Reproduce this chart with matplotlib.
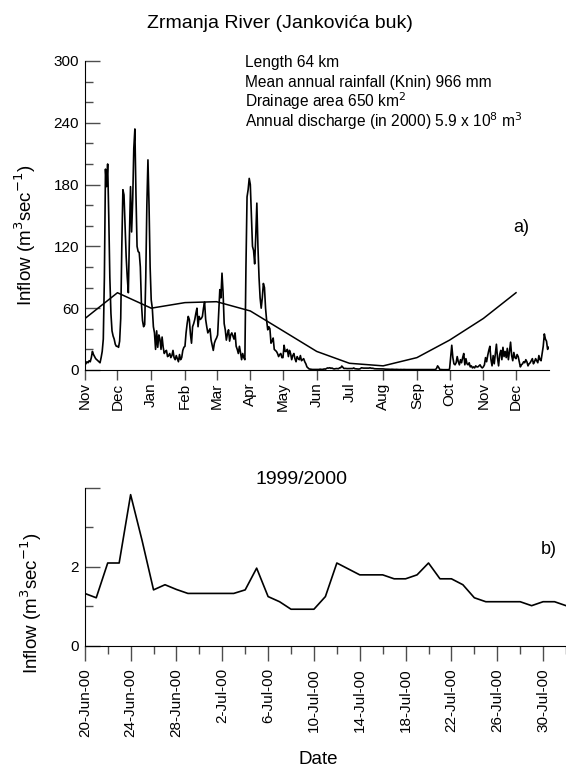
import numpy as np
import pandas as pd
import matplotlib
matplotlib.use("Agg")
import matplotlib.pyplot as plt
import matplotlib.dates as mdates
from matplotlib.ticker import MultipleLocator, FixedLocator, FuncFormatter

plt.rcParams['font.family'] = ['Liberation Sans', 'DejaVu Sans']

# daily inflow (m3/s), Nov 1999 - Dec 2000
nov99 = [5, 6, 8, 7, 9, 8, 12, 18, 15, 13, 11, 10, 9, 8, 7, 12, 18, 30, 90, 195,
         178, 200, 150, 90, 55, 38, 33, 30, 25, 23]
dec99 = [23, 22, 28, 50, 120, 175, 170, 140, 110, 90, 75, 130, 178, 134, 165, 215,
         234, 170, 120, 115, 114, 100, 65, 48, 42, 44, 90, 160, 204, 160, 100]
jan00 = [68, 60, 42, 36, 20, 38, 22, 34, 30, 20, 32, 22, 16, 18, 19, 13, 14, 16,
         12, 14, 19, 12, 10, 14, 11, 8, 15, 10, 12, 19, 22]
feb00 = [23, 36, 45, 52, 49, 35, 26, 42, 45, 49, 55, 60, 42, 52, 49, 50, 52, 60,
         66, 49, 42, 36, 38, 40, 29, 24, 19, 26, 29]
mar00 = [31, 34, 55, 78, 70, 94, 75, 45, 39, 29, 35, 39, 28, 34, 36, 33, 30, 36,
         23, 20, 16, 23, 17, 10, 16, 12, 10, 100, 168, 175, 186]
apr00 = [180, 150, 120, 116, 103, 130, 162, 120, 90, 70, 60, 70, 84, 80, 60, 48,
         39, 42, 40, 26, 28, 31, 20, 19, 18, 16, 13, 15, 16, 12]
may00 = [12, 24, 18, 18, 20, 13, 19, 16, 10, 14, 16, 11, 8, 13, 11, 10, 14, 9, 10,
         11, 8, 6, 3, 2, 1, 0.8, 0.6, 0.5, 0.5, 0.6, 0.5]
jun00_early = [0.5, 0.6, 0.5, 0.8, 0.6, 0.5, 0.7, 1.0, 0.8, 1.5, 2.0, 1.8, 2.2,
               1.6, 1.9, 1.3, 1.0, 1.2, 1.4]
# 20 Jun - 1 Aug 2000 (panel b)
summer = [1.33, 1.22, 2.1, 2.1, 3.83, 2.67, 1.42, 1.55, 1.43, 1.33, 1.33,
          1.33, 1.33, 1.33, 1.42, 1.97, 1.25, 1.12, 0.93, 0.93, 0.93, 1.25, 2.1,
          1.95, 1.8, 1.8, 1.8, 1.7, 1.7, 1.8, 2.1, 1.7, 1.7, 1.55, 1.22, 1.12,
          1.12, 1.12, 1.12, 1.02, 1.12, 1.12, 1.02]
aug00_rest = [0.9, 0.8, 0.8, 0.7, 0.7, 0.6, 0.6, 0.7, 0.6, 0.5, 0.5, 0.6, 0.5, 0.5,
              0.4, 0.5, 0.4, 0.4, 0.5, 0.4, 0.4, 0.4, 0.3, 0.4, 0.3, 0.3, 0.4, 0.3,
              0.3, 0.3]
sep00 = [0.3, 0.3, 0.3, 0.3, 0.3, 0.3, 0.3, 0.3, 0.3, 0.3, 0.3, 0.3, 0.3, 0.3, 0.3,
         0.3, 0.3, 0.4, 1.5, 4.0, 2.5, 0.5, 0.4, 0.3, 0.3, 0.3, 0.3, 0.3, 0.3, 0.3]
oct00 = [1, 12, 24, 12, 6, 5, 7, 13, 8, 5, 10, 7, 12, 16, 5, 11, 6, 5, 7, 3, 4, 2,
         3, 2, 4, 3, 3, 4, 5, 3, 2]
nov00 = [3, 5, 12, 8, 14, 19, 23, 10, 4, 14, 6, 16, 25, 12, 4, 15, 19, 10, 22, 13,
         18, 12, 21, 10, 18, 27, 14, 9, 17, 12]
dec00 = [11, 15, 13, 8, 3, 5, 6, 8, 7, 10, 8, 4, 6, 7, 9, 11, 6, 8, 11, 9, 7, 14,
         10, 9, 16, 23, 35, 30, 28, 20, 22]

# mean monthly values (first of month)
monthly = [49.8, 75, 60, 65.4, 66.3, 57.3, 38, 18, 6.5, 4, 12, 29, 50, 75]

info_lines = ["Length 64 km",
              "Mean annual rainfall (Knin) 966 mm",
              "Drainage area 650 km$^2$",
              "Annual discharge (in 2000) 5.9 x 10$^8$ m$^3$"]

daily = (nov99 + dec99 + jan00 + feb00 + mar00 + apr00 + may00 + jun00_early
         + summer + aug00_rest + sep00 + oct00 + nov00 + dec00)
days = pd.date_range("1999-11-01", periods=len(daily), freq="D")
months = pd.date_range("1999-11-01", periods=len(monthly), freq="MS")
summer_days = pd.date_range("2000-06-20", periods=len(summer), freq="D")

fig = plt.figure(figsize=(5.66, 7.66), dpi=100)
tick_col = "0.3"

# ---- panel a
ax1 = fig.add_axes([0.1498, 0.5170, 0.8196, 0.4034])
ax1.plot(days, daily, color="black", lw=1.2)
ax1.plot(months, monthly, color="black", lw=1.1)
ax1.set_xlim(pd.Timestamp("1999-11-01"), pd.Timestamp("2000-12-31"))
ax1.set_ylim(0, 300)
ax1.yaxis.set_major_locator(MultipleLocator(60))
ax1.yaxis.set_minor_locator(MultipleLocator(20))
ax1.xaxis.set_major_locator(mdates.MonthLocator())
ax1.xaxis.set_major_formatter(mdates.DateFormatter("%b"))
ax1.tick_params(axis="y", which="major", direction="in", length=10.5, width=1,
                color=tick_col, labelsize=11, pad=4)
ax1.tick_params(axis="y", which="minor", direction="in", length=6, width=1,
                color=tick_col)
ax1.tick_params(axis="x", which="major", direction="out", length=7, width=1,
                color=tick_col, labelsize=11, labelrotation=90, pad=2)
for s in ["top", "right"]:
    ax1.spines[s].set_visible(False)
fig.text(280 / 566, 1 - 23 / 766, "Zrmanja River (Jankovića buk)",
         ha="center", va="center", fontsize=14)
for i, line in enumerate(info_lines):
    fig.text(244.8 / 566, 1 - (67 + 20 * i) / 766, line, ha="left",
             va="baseline", fontsize=11.2)
fig.text(521.6 / 566, 1 - 228 / 766, "a)", ha="center", va="center", fontsize=13)
fig.text(25 / 566, 1 - 235 / 766, "Inflow (m$^3$sec$^{-1}$)", rotation=90,
         ha="center", va="center", fontsize=13.5)

# ---- panel b
ax2 = fig.add_axes([0.1498, 0.1567, 0.8502, 0.2063])
ax2.plot(summer_days, summer, color="black", lw=1.2)
ax2.set_xlim(pd.Timestamp("2000-06-20"), pd.Timestamp("2000-08-01"))
ax2.set_ylim(0, 4)
ax2.yaxis.set_major_locator(FixedLocator([0, 2, 4]))
ax2.yaxis.set_major_formatter(FuncFormatter(lambda v, p: "" if v == 4 else f"{v:g}"))
ax2.yaxis.set_minor_locator(FixedLocator([1, 3]))
major_days = pd.date_range("2000-06-20", "2000-08-01", freq="4D")
minor_days = pd.date_range("2000-06-22", "2000-08-01", freq="4D")
ax2.xaxis.set_major_locator(FixedLocator(mdates.date2num(major_days)))
ax2.xaxis.set_minor_locator(FixedLocator(mdates.date2num(minor_days)))
ax2.xaxis.set_major_formatter(FuncFormatter(
    lambda v, p: "{}-{}".format(mdates.num2date(v).day, mdates.num2date(v).strftime("%b-%y"))))
ax2.tick_params(axis="y", which="major", direction="in", length=10.5, width=1,
                color=tick_col, labelsize=11, pad=4)
ax2.tick_params(axis="y", which="minor", direction="in", length=6, width=1,
                color=tick_col)
ax2.tick_params(axis="x", which="major", direction="out", length=11, width=1,
                color=tick_col, labelsize=11, labelrotation=90, pad=5)
ax2.tick_params(axis="x", which="minor", direction="out", length=5.5, width=1,
                color=tick_col)
for s in ["top", "right"]:
    ax2.spines[s].set_visible(False)
fig.text(301.5 / 566, 1 - 480 / 766, "1999/2000", ha="center", va="center", fontsize=14)
fig.text(549 / 566, 1 - 550 / 766, "b)", ha="center", va="center", fontsize=13)
fig.text(31.6 / 566, 1 - 603 / 766, "Inflow (m$^3$sec$^{-1}$)", rotation=90,
         ha="center", va="center", fontsize=13.5)
fig.text(318 / 566, 1 - 759 / 766, "Date", ha="center", va="center", fontsize=13.5)

fig.savefig("out.png", dpi=100)
